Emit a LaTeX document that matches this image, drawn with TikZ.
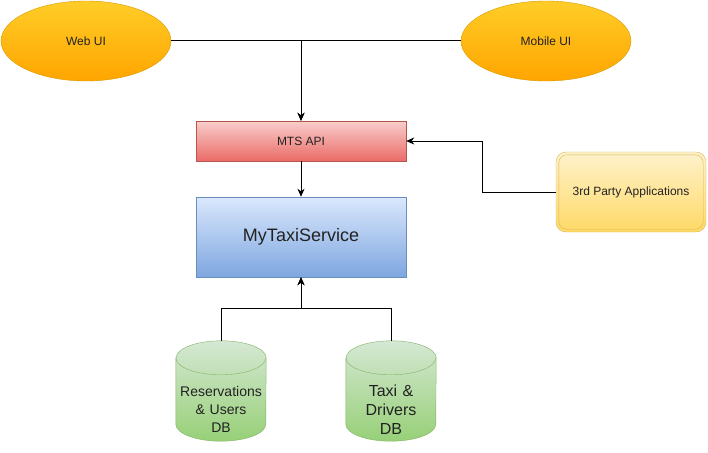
\documentclass[tikz,border=0pt]{standalone}
\usepackage{fontspec}
\setmainfont{Liberation Sans}
\usetikzlibrary{positioning, arrows.meta, shapes.geometric}
\definecolor{uitop}{HTML}{FFCD28}
\definecolor{uibot}{HTML}{FFA500}
\definecolor{uiline}{HTML}{D79B00}
\definecolor{apitop}{HTML}{F8CECC}
\definecolor{apibot}{HTML}{EA6B66}
\definecolor{apiline}{HTML}{B85450}
\definecolor{svctop}{HTML}{DAE8FC}
\definecolor{svcbot}{HTML}{7EA6E0}
\definecolor{svcline}{HTML}{6C8EBF}
\definecolor{apptop}{HTML}{FFF2CC}
\definecolor{appbot}{HTML}{FFD966}
\definecolor{appline}{HTML}{D6B656}
\definecolor{dbtop}{HTML}{D5E8D4}
\definecolor{dbbot}{HTML}{97D077}
\definecolor{dbline}{HTML}{82B366}
\definecolor{txt}{HTML}{222222}
\tikzset{
  client/.style={
      ellipse,
      draw=uiline,
      top color=uitop,
      bottom color=uibot,
      minimum width=170pt,
      minimum height=80pt,
      inner sep=0pt,
      text=txt,
      font=\fontsize{12}{14}\selectfont
    },
  gate/.style={
      rectangle,
      draw=apiline,
      top color=apitop,
      bottom color=apibot,
      minimum width=210pt,
      minimum height=40pt,
      text=txt,
      font=\fontsize{12}{14}\selectfont
    },
  core/.style={
      rectangle,
      draw=svcline,
      top color=svctop,
      bottom color=svcbot,
      minimum width=210pt,
      minimum height=80pt,
      text=txt,
      font=\fontsize{18}{22}\selectfont
    },
  extapp/.style={
      rectangle,
      rounded corners=10pt,
      draw=appline,
      top color=apptop,
      bottom color=appbot,
      minimum width=150pt,
      minimum height=80pt,
      text=txt,
      font=\fontsize{12}{14}\selectfont
    },
  store/.style={
      rectangle,
      minimum width=90pt,
      minimum height=100pt,
      inner sep=0pt
    },
  storetext/.style={
      text width=90pt,
      align=center,
      inner sep=0pt,
      text=txt
    },
  arr/.style={
      -{Stealth[length=8pt, width=7pt, inset=2.5pt]},
      line width=1pt
    },
  link/.style={
      line width=1pt
    }
}
\begin{document}
\begin{tikzpicture}[x=1pt, y=-1pt]
  \useasboundingbox (0,0) rectangle (708,452);
  % clients
  \node[client] (web) at (86,41) {Web UI};
  \node[client] (mob) at (546,41) {Mobile UI};
  % service
  \node[gate] (api) at (301,141) {MTS API};
  \node[core] (svc) at (301,237) {MyTaxiService};
  \node[extapp] (app) at (631,192) {3rd Party Applications};
  \draw[appline] ([shift={(3pt,3pt)}]app.south west) [rounded corners=8pt] rectangle ([shift={(-3pt,-3pt)}]app.north east);
  % databases
  \node[store] (res) at (221,391) {};
  \node[store] (taxi) at (391,391) {};
  \foreach \db in {res,taxi} {
    \shade[top color=dbtop, bottom color=dbbot, draw=dbline]
      ([yshift=-17pt]\db.north west) -- ([yshift=17pt]\db.south west)
      arc[start angle=180, end angle=360, x radius=45pt, y radius=17pt]
      -- ([yshift=-17pt]\db.north east)
      arc[start angle=0, end angle=180, x radius=45pt, y radius=17pt] -- cycle;
    \draw[dbline] ([yshift=-17pt]\db.north west)
      arc[start angle=180, end angle=360, x radius=45pt, y radius=17pt];
  }
  \node[storetext, font=\fontsize{14}{18}\selectfont] (restext) at ([yshift=-18pt]res.center) {Reservations\\ \& Users\\ DB};
  \node[storetext, font=\fontsize{16}{19}\selectfont] (taxitext) at ([yshift=-19pt]taxi.center) {Taxi \&\\ Drivers\\ DB};
  % connectors
  \draw[arr] (web) -| (api);
  \draw[arr] (mob) -| (api);
  \draw[arr] (api) -- (svc);
  \draw[arr] (app.west) -| ([xshift=76pt]api.east) -- (api.east);
  \draw[arr] (res.north) -- ++(0,-32) -| (svc.south);
  \draw[arr] (taxi.north) -- ++(0,-32) -| (svc.south);
\end{tikzpicture}
\end{document}
